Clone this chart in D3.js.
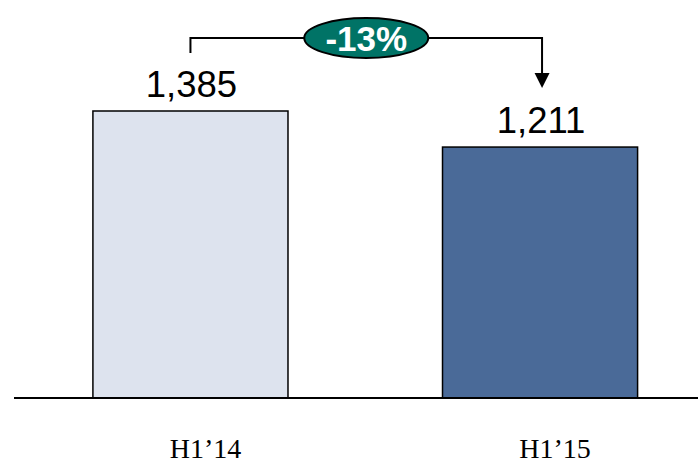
<!DOCTYPE html>
<html>
<head>
<meta charset="utf-8">
<script src="https://cdn.jsdelivr.net/npm/d3@7"></script>
<style>
  html, body { margin: 0; padding: 0; background: #fff; }
  svg { display: block; }
</style>
</head>
<body>
<div id="chart"></div>
<script>
// data
const categories = ["H1\u201914", "H1\u201915"];
const values = [1385, 1211];
const valueLabels = ["1,385", "1,211"];
const barColors = ["#dde3ee", "#4a6a98"];
const changeLabel = "-13%";

(function() {
    const width = 698;
    const height = 465;
    const baseY = 398;

    const x = d3.scaleBand()
        .domain(categories)
        .range([16, 714.5])
        .paddingInner(0.442)
        .paddingOuter(0.22);

    const y = d3.scaleLinear()
        .domain([0, d3.max(values)])
        .range([baseY, 111]);

    const svg = d3.select("#chart").append("svg")
        .attr("width", width)
        .attr("height", height);

    const data = categories.map((c, i) => ({cat: c, v: values[i], label: valueLabels[i], color: barColors[i]}));

    // bars
    svg.append("g")
        .selectAll("rect")
        .data(data)
        .join("rect")
        .attr("x", d => x(d.cat))
        .attr("y", d => y(d.v))
        .attr("width", x.bandwidth())
        .attr("height", d => y(0) - y(d.v))
        .attr("fill", d => d.color)
        .attr("stroke", "#000")
        .attr("stroke-width", 1.5);

    // baseline
    svg.append("line")
        .attr("x1", 14).attr("x2", width)
        .attr("y1", y(0)).attr("y2", y(0))
        .attr("stroke", "#000")
        .attr("stroke-width", 2);

    // value labels
    svg.append("g")
        .selectAll("text")
        .data(data)
        .join("text")
        .attr("x", d => x(d.cat) + x.bandwidth() / 2 + 1)
        .attr("y", d => y(d.v) - 14)
        .attr("text-anchor", "middle")
        .attr("font-family", "Liberation Sans, Arial, sans-serif")
        .attr("font-size", 36.5)
        .attr("fill", "#000")
        .text(d => d.label);

    // category labels
    svg.append("g")
        .selectAll("text")
        .data(data)
        .join("text")
        .attr("x", d => x(d.cat) + x.bandwidth() / 2 + 15)
        .attr("y", 458)
        .attr("text-anchor", "middle")
        .attr("font-family", "Liberation Serif, Times New Roman, serif")
        .attr("font-size", 28)
        .attr("fill", "#000")
        .text(d => d.cat);

    // change bracket with arrow
    const x1 = x(categories[0]) + x.bandwidth() / 2;
    const x2 = x(categories[1]) + x.bandwidth() / 2 + 2;
    const topY = 38;
    const tipY = y(values[1]) - 59;

    svg.append("path")
        .attr("d", `M${x1},${y(values[0]) - 58} V${topY} H${x2} V${tipY - 14}`)
        .attr("fill", "none")
        .attr("stroke", "#000")
        .attr("stroke-width", 2);

    svg.append("path")
        .attr("d", `M${x2 - 7.5},${tipY - 15} L${x2 + 7.5},${tipY - 15} L${x2},${tipY} Z`)
        .attr("fill", "#000");

    const cx = (x1 + x2) / 2;
    svg.append("ellipse")
        .attr("cx", cx)
        .attr("cy", topY)
        .attr("rx", 62)
        .attr("ry", 20)
        .attr("fill", "#007366")
        .attr("stroke", "#000")
        .attr("stroke-width", 2);

    svg.append("text")
        .attr("x", cx)
        .attr("y", topY + 12.5)
        .attr("text-anchor", "middle")
        .attr("font-family", "Liberation Sans, Arial, sans-serif")
        .attr("font-weight", "bold")
        .attr("font-size", 35)
        .attr("fill", "#fff")
        .text(changeLabel);
}());
</script>
</body>
</html>
